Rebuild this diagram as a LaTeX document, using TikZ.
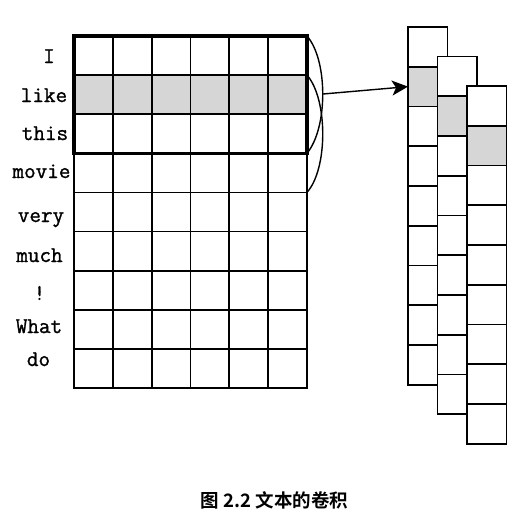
\documentclass[tikz,border=0pt]{standalone}
\usepackage{fontspec}
\newfontfamily\cjk{Noto Sans CJK SC Bold}
\newfontfamily\wordfont[FakeBold=1.2]{Latin Modern Mono}
\usetikzlibrary{arrows.meta}
\begin{document}
\begin{tikzpicture}[x=1pt,y=-1pt,
  gridcell/.style={draw=black,line width=1.8pt,minimum width=38.83pt,minimum height=39.1pt,inner sep=0pt,outer sep=0pt,anchor=north west},
  colcell/.style={draw=black,fill=white,line width=1.9pt,minimum width=39.5pt,minimum height=39.75pt,inner sep=0pt,outer sep=0pt,anchor=north west},
  shaded/.style={fill=gray!32},
  word/.style={font=\wordfont\fontsize{22.5}{22.5}\selectfont,anchor=base,inner sep=0pt},
  link/.style={line width=1.4pt},
  caption/.style={font=\cjk\fontsize{18.5}{18.5}\selectfont,inner sep=0pt}
]
\useasboundingbox (0,0) rectangle (520,517);
% left grid
\foreach \r in {1,...,9}{
  \foreach \c in {1,...,6}{
    \ifnum\r=2
      \node[gridcell,shaded] (g\r\c) at ({74+(\c-1)*38.83},{36+(\r-1)*39.1}) {};
    \else
      \node[gridcell] (g\r\c) at ({74+(\c-1)*38.83},{36+(\r-1)*39.1}) {};
    \fi
  }
}
\draw[line width=3.6pt] (g11.north west) rectangle (g36.south east);
% words
\node[word] (w1) at (49,63) {I};
\node[word] (w2) at (44,102) {like};
\node[word] (w3) at (45,140) {this};
\node[word] (w4) at (41.5,178) {movie};
\node[word] (w5) at (41,222) {very};
\node[word] (w6) at (39.5,262) {much};
\node[word] (w7) at (39.5,300) {!};
\node[word] (w8) at (39,333) {What};
\node[word] (w9) at (38.5,366) {do};
% right columns
\foreach \k in {0,1,2}{
  \foreach \r in {1,...,9}{
    \ifnum\r=2
      \node[colcell,shaded] (k\k r\r) at ({408+\k*29.5},{27+\k*29.5+(\r-1)*39.75}) {};
    \else
      \node[colcell] (k\k r\r) at ({408+\k*29.5},{27+\k*29.5+(\r-1)*39.75}) {};
    \fi
  }
}
% arcs
\coordinate (apexA) at (323,94);
\draw[link] (g16.north east) .. controls (328,60) and (328,128) .. (g36.south east);
\draw[link] (g26.north east) .. controls (328,99) and (328,169) .. (g46.south east);
% arrow
\draw[link,-{Stealth[length=16pt,width=15pt,inset=4pt]}] (apexA) -- (k0r2.west);
% caption
\node[caption] (cap) at (274.5,500) {图 2.2 文本的卷积};
\end{tikzpicture}
\end{document}
